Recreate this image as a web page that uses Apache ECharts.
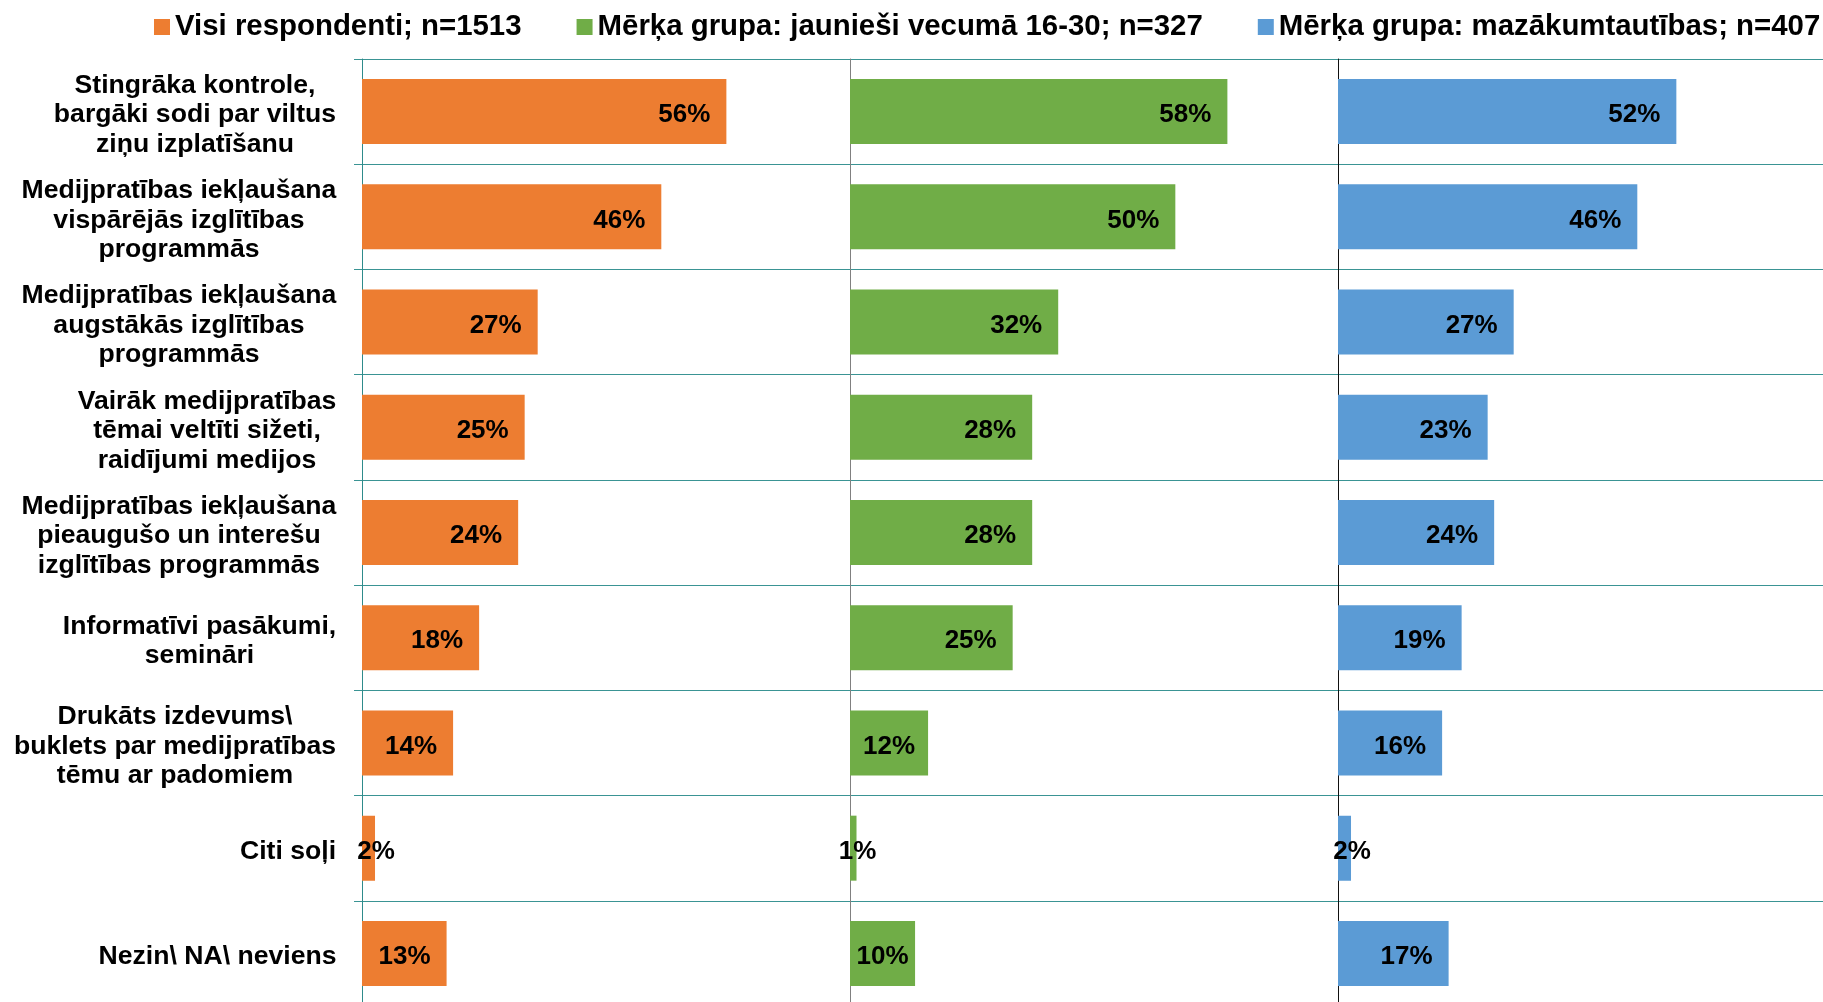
<!DOCTYPE html>
<html><head><meta charset="utf-8">
<script src="https://cdn.jsdelivr.net/npm/echarts@6/dist/echarts.min.js"></script>
<style>html,body{margin:0;padding:0;background:#fff}#c{width:1823px;height:1002px}</style>
</head><body><div id="c"></div>
<script>
const categories = [
  'Stingrāka kontrole,\nbargāki sodi par viltus\nziņu izplatīšanu',
  'Medijpratības iekļaušana\nvispārējās izglītības\nprogrammās',
  'Medijpratības iekļaušana\naugstākās izglītības\nprogrammās',
  'Vairāk medijpratības\ntēmai veltīti sižeti,\nraidījumi medijos',
  'Medijpratības iekļaušana\npieaugušo un interešu\nizglītības programmās',
  'Informatīvi pasākumi,\nsemināri',
  'Drukāts izdevums\\\nbuklets par medijpratības\ntēmu ar padomiem',
  'Citi soļi',
  'Nezin\\ NA\\ neviens'
];
const seriesNames = [
  'Visi respondenti; n=1513',
  'Mērķa grupa: jaunieši vecumā 16-30; n=327',
  'Mērķa grupa: mazākumtautības; n=407'
];
const visiRespondenti = [56, 46, 27, 25, 24, 18, 14, 2, 13];
const jaunieši = [58, 50, 32, 28, 28, 25, 12, 1, 10];
const mazakumtautibas = [52, 46, 27, 23, 24, 19, 16, 2, 17];
const valueMax = 75;

const colors = ['#ED7D31', '#70AD47', '#5B9BD5'];
const axisColors = ['#2E8B8B', '#808080', '#111111'];
const gridLineColor = '#3A9494';
const FONT = '"Liberation Sans", Arial, sans-serif';
const labelFont = 26.6;

const ctx = document.createElement('canvas').getContext('2d');
ctx.font = 'bold ' + labelFont + 'px ' + FONT;
const rich = {};
categories.forEach((c, i) => {
  const w = Math.max(...c.split('\n').map(l => ctx.measureText(l).width));
  rich['r' + i] = {
    width: Math.ceil(w) + 1, align: 'center', fontSize: labelFont, fontWeight: 'bold',
    fontFamily: FONT, color: '#000', lineHeight: 29.6
  };
});

const lefts = [362, 850, 1338];
const panelW = 488;
const grids = lefts.map(l => ({ left: l, width: panelW, top: 59, bottom: -4, containLabel: false, outerBoundsMode: 'none' }));

function layoutLabel(p) {
  const r = p.rect, lw = p.labelRect.width;
  const end = r.x + r.width;
  let cx;
  if (r.width >= lw + 32) cx = end - 16 - lw / 2;
  else if (r.width >= lw) cx = r.x + r.width / 2;
  else cx = end + 1;
  return { x: cx, y: r.y + r.height / 2 + 3.5, align: 'center', verticalAlign: 'middle' };
}

const seriesData = [visiRespondenti, jaunieši, mazakumtautibas];
const option = {
  animation: false,
  backgroundColor: '#fff',
  legend: {
    left: 154, top: 12.5, width: 1800, padding: 0, itemWidth: 16, itemHeight: 16, itemGap: 55, icon: 'rect',
    textStyle: { fontSize: 29.4, fontWeight: 'bold', color: '#000', fontFamily: FONT },
    data: seriesNames
  },
  grid: grids,
  xAxis: lefts.map((l, i) => ({ type: 'value', gridIndex: i, min: 0, max: valueMax, show: false })),
  yAxis: lefts.map((l, i) => ({
    type: 'category', gridIndex: i, inverse: true, data: categories,
    axisLine: { show: true, lineStyle: { color: axisColors[i], width: 1 } },
    axisTick: { show: i === 0, length: 8, lineStyle: { color: gridLineColor } },
    splitLine: { show: true, showMinLine: true, showMaxLine: true, lineStyle: { color: gridLineColor, width: 1 } },
    axisLabel: i === 0 ? {
      show: true, align: 'right', margin: 25, padding: [7, 0, 0, 0],
      formatter: (v, idx) => v.split('\n').map(l => '{r' + idx + '|' + l + '}').join('\n'),
      rich: rich
    } : { show: false }
  })),
  series: seriesNames.map((n, i) => ({
    name: n, type: 'bar', xAxisIndex: i, yAxisIndex: i,
    data: seriesData[i], barWidth: 65,
    itemStyle: { color: colors[i] },
    label: {
      show: true, position: 'insideRight', formatter: '{c}%',
      color: '#000', fontSize: 26, fontWeight: 'bold', fontFamily: FONT
    },
    labelLayout: layoutLabel
  }))
};
const chart = echarts.init(document.getElementById('c'), null, { renderer: 'canvas' });
chart.setOption(option);
</script></body></html>
